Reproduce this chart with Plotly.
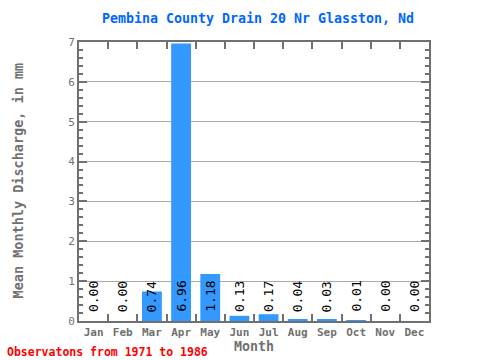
import plotly.graph_objects as go

months = ["Jan", "Feb", "Mar", "Apr", "May", "Jun", "Jul", "Aug", "Sep", "Oct", "Nov", "Dec"]
discharge = [0.00, 0.00, 0.74, 6.96, 1.18, 0.13, 0.17, 0.04, 0.03, 0.01, 0.00, 0.00]
labels = ["0.00", "0.00", "0.74", "6.96", "1.18", "0.13", "0.17", "0.04", "0.03", "0.01", "0.00", "0.00"]

MONO = "DejaVu Sans Mono"
GRAY = "#707070"

fig = go.Figure()
fig.add_trace(go.Bar(x=months, y=discharge, marker=dict(color="#3399ff", line=dict(width=0)),
                     width=0.68, hoverinfo="skip"))

for m, lab in zip(months, labels):
    fig.add_annotation(x=m, y=0, text=lab, textangle=-90, showarrow=False,
                       yanchor="bottom", yshift=7,
                       font=dict(family=MONO, size=13, color="black"))

fig.update_layout(
    width=480, height=360,
    margin=dict(l=79, r=51, t=42, b=39, autoexpand=False),
    paper_bgcolor="white", plot_bgcolor="white",
    showlegend=False,
    title=dict(text="<b>Pembina County Drain 20 Nr Glasston, Nd</b>", x=258 / 480, xanchor="center",
               y=1 - 18 / 360, yanchor="middle", yref="container",
               font=dict(family=MONO, size=13.3, color="#0066ff")),
    xaxis=dict(type="category", tickson="boundaries", ticks="inside", ticklen=7, tickwidth=2,
               tickcolor=GRAY, showline=True, linecolor=GRAY, linewidth=2, mirror="allticks",
               tickangle=0, automargin=False,
               tickfont=dict(family=MONO, size=11, color=GRAY, weight="bold"),
               title=dict(text="<b>Month</b>", standoff=2, font=dict(family=MONO, size=13.3, color=GRAY)),
               showgrid=False, fixedrange=True),
    yaxis=dict(range=[0, 7], dtick=1, ticks="inside", ticklen=8, tickwidth=2, tickcolor=GRAY,
               showline=True, linecolor=GRAY, linewidth=2, mirror="allticks", automargin=False,
               tickfont=dict(family=MONO, size=11, color=GRAY),
               showgrid=True, gridcolor="#aaaaaa", gridwidth=1, zeroline=False,
               minor=dict(dtick=0.2, ticks="inside", ticklen=4, tickwidth=2, tickcolor=GRAY, showgrid=False),
               fixedrange=True),
)

fig.add_annotation(x=(17 - 79) / 350, y=(321 - 180.5) / 279, xref="paper", yref="paper",
                   xanchor="center", yanchor="middle", textangle=-90,
                   text="<b>Mean Monthly Discharge, in mm</b>", showarrow=False,
                   font=dict(family=MONO, size=13.5, color=GRAY))
fig.add_annotation(x=0, y=0, xref="paper", yref="paper", xanchor="left", yanchor="middle",
                   text="<b>Observatons from 1971 to 1986</b>", showarrow=False,
                   xshift=-74, yshift=-31,
                   font=dict(family=MONO, size=11.5, color="red"))

fig.write_html("out.html", config={"displayModeBar": False},
               post_script="document.body.style.margin='0';")
